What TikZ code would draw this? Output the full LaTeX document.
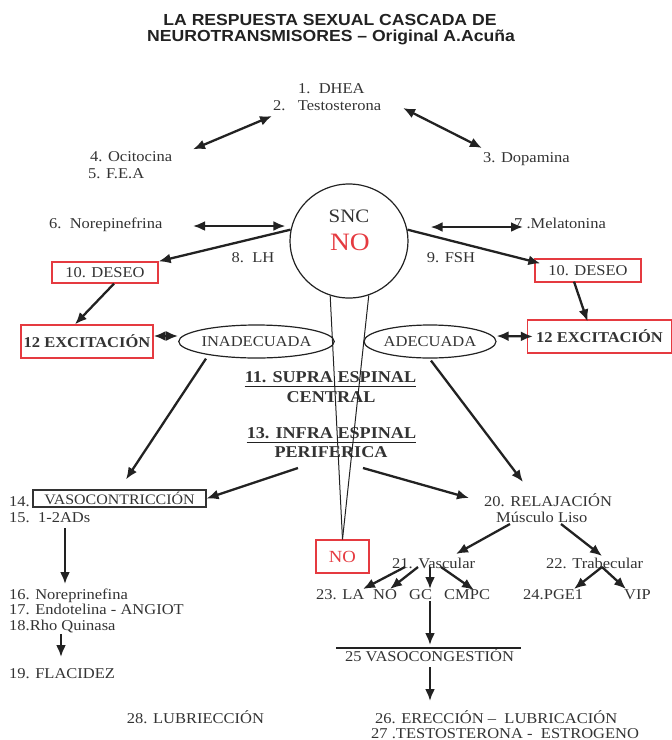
\documentclass[tikz,border=0pt]{standalone}
\usepackage{fontspec}
\setmainfont{Liberation Serif}[FakeStretch=1.1]
\newfontfamily\titlefont{Liberation Sans}[FakeStretch=1.1]
\usetikzlibrary{arrows.meta,shapes.geometric}
\definecolor{ink}{HTML}{222222}
\definecolor{txt}{HTML}{333333}
\definecolor{redbox}{HTML}{E53A40}
\begin{document}
\begin{tikzpicture}[x=1pt,y=-1pt,
  lbl/.style={inner sep=0pt, text=txt, font=\fontsize{15}{17}\selectfont, text height=10pt, text depth=0pt},
  bigb/.style={inner sep=0pt, text=txt, font=\fontsize{16.5}{19}\selectfont\bfseries, text height=11.4pt, text depth=0pt},
  ttl/.style={inner sep=0pt, text=ink, font=\titlefont\fontsize{16}{18}\selectfont\bfseries},
  arr/.style={-{Latex[length=12pt,width=10pt]}, line width=2.3pt, draw=ink},
  dbl/.style={{Latex[length=12pt,width=10pt]}-{Latex[length=12pt,width=10pt]}, line width=2.3pt, draw=ink},
  redbx/.style={draw=redbox, line width=1.3pt, inner sep=0pt, text=txt, font=\fontsize{15}{17}\selectfont},
  oval/.style={ellipse, draw=ink, line width=1.2pt, inner sep=0pt, text=txt, font=\fontsize{15}{17}\selectfont},
]
\useasboundingbox (0,0) rectangle (672,740);

% title
\node[ttl] (title1) at (330,20) {LA RESPUESTA SEXUAL CASCADA DE};
\node[ttl] (title2) at (331,37) {NEUROTRANSMISORES – Original A.Acuña};

% top labels
\node[lbl, anchor=west] (dhea) at (298,88) {1.\ \ DHEA};
\node[lbl, anchor=west] (testo) at (273,105) {2.\ \ \ Testosterona};
\node[lbl, anchor=west] (ocit) at (90,156) {4. Ocitocina};
\node[lbl, anchor=west] (fea) at (88,173) {5. F.E.A};
\node[lbl, anchor=west] (dopa) at (483,157) {3. Dopamina};
\node[lbl, anchor=west] (norep) at (49,223) {6.\ \ Norepinefrina};
\node[lbl, anchor=west] (melat) at (514,223) {7 .Melatonina};

% SNC
\node[ellipse, draw=ink, line width=1.2pt, minimum width=118pt, minimum height=114pt, inner sep=0pt] (snc) at (349,241) {};
\node[inner sep=0pt, text=txt, font=\fontsize{19}{21}\selectfont] (snctxt) at (349,216) {SNC};
\node[inner sep=0pt, text=redbox, font=\fontsize{25}{27}\selectfont] (sncno) at (350,242) {NO};

\node[lbl] (lh) at (253,257) {8.\ \ LH};
\node[lbl] (fsh) at (451,257) {9. FSH};

% DESEO boxes
\node[redbx, minimum width=106pt, minimum height=21pt] (deseoL) at (105,272.5) {10. DESEO};
\node[redbx, minimum width=106pt, minimum height=23pt] (deseoR) at (588,270.5) {10. DESEO};

% EXCITACION boxes
\node[redbx, minimum width=132pt, minimum height=33pt, font=\fontsize{15}{17}\selectfont\bfseries] (excL) at (87,341.5) {12 EXCITACIÓN};
\node[redbx, minimum width=144pt, minimum height=33pt, font=\fontsize{15}{17}\selectfont\bfseries] (excR) at (599.5,336.5) {12 EXCITACIÓN};

% ovals
\node[oval, minimum width=131pt, minimum height=33pt] (inad) at (256.5,341.5) {INADECUADA};
\node[oval, minimum width=132pt, minimum height=33pt] (adec) at (430,341.5) {ADECUADA};

% central labels
\node[bigb] (supra) at (330.5,377) {11. SUPRA ESPINAL};
\node[bigb] (central) at (331,397) {CENTRAL};
\node[bigb] (infra) at (331.5,433) {13. INFRA ESPINAL};
\node[bigb] (perif) at (331,452) {PERIFERICA};
\draw[ink, line width=1.4pt] ([yshift=-3.5pt]supra.south west) -- ([yshift=-3.5pt]supra.south east);
\draw[ink, line width=1.4pt] ([yshift=-3.5pt]infra.south west) -- ([yshift=-3.5pt]infra.south east);

% NO box
\node[redbx, minimum width=53pt, minimum height=33pt, text=redbox, font=\fontsize{17}{19}\selectfont] (nobox) at (342.5,556.5) {NO};
\draw[ink, line width=1pt] (snc.251) -- (nobox.north);
\draw[ink, line width=1pt] (snc.290) -- (nobox.north);

% left column
\node[lbl, anchor=west] (n14) at (9,501) {14.};
\node[draw=txt, line width=1.1pt, minimum width=173pt, minimum height=17pt, inner sep=0pt, text=txt, font=\fontsize{14.5}{16}\selectfont] (vaso) at (119.5,498.5) {VASOCONTRICCIÓN};
\node[lbl, anchor=west] (ad15) at (9,517) {15.\ \ 1-2ADs};
\node[lbl, anchor=west] (nore16) at (9,594) {16. Noreprinefina};
\node[lbl, anchor=west] (endo17) at (9,609) {17. Endotelina - ANGIOT};
\node[lbl, anchor=west] (rho18) at (9,625) {18.Rho Quinasa};
\node[lbl, anchor=west] (flac19) at (9,673) {19. FLACIDEZ};
\node[lbl] (lub28) at (195.5,718) {28. LUBRIECCIÓN};

% right column
\node[lbl, anchor=west] (rel) at (484,501) {20. RELAJACIÓN};
\node[lbl, anchor=west] (musc) at (496,517) {Músculo Liso};
\node[lbl, anchor=west] (vasc) at (392,563) {21. Vascular};
\node[lbl, anchor=west] (trab) at (546,563) {22. Trabecular};
\node[lbl, anchor=west] (la) at (316,594) {23. LA};
\node[lbl, anchor=west] (no2) at (373,594) {NO};
\node[lbl, anchor=west] (gc) at (409,594) {GC};
\node[lbl, anchor=west] (cmpc) at (444,594) {CMPC};
\node[lbl, anchor=west] (pge) at (523,594) {24.PGE1};
\node[lbl, anchor=west] (vip) at (624,594) {VIP};
\node[lbl] (vcong) at (429.5,656) {25 VASOCONGESTIÓN};
\node[lbl, anchor=west] (erec) at (375,718) {26. ERECCIÓN –\ \ LUBRICACIÓN};
\node[lbl, anchor=west] (testo27) at (371,733) {27 .TESTOSTERONA -\ \ ESTROGENO};
\draw[ink, line width=1.1pt] ([xshift=-93.5pt,yshift=8pt]vcong.center) -- ([xshift=91.5pt,yshift=8pt]vcong.center);

% arrows top
\draw[dbl] ([xshift=103pt,yshift=1.5pt]ocit.north west) -- ([xshift=-1pt,yshift=-11pt]testo.west);
\draw[dbl] ([xshift=130pt,yshift=-3pt]testo.west) -- ([xshift=-1pt,yshift=9pt]dopa.west);
\draw[dbl] ([xshift=144pt,yshift=-3pt]norep.west) -- ([xshift=-4pt,yshift=15pt]snc.west);
\draw[dbl] ([xshift=22pt,yshift=14pt]snc.east) -- ([xshift=9pt,yshift=-4pt]melat.west);
\draw[arr] (snc.169) -- (deseoL.north east);
\draw[arr] (snc.11) -- ([xshift=6pt,yshift=-5pt]deseoR.north west);
\draw[arr] ([xshift=9pt]deseoL.south) -- ([xshift=-12pt]excL.north);
\draw[arr] ([xshift=-14pt,yshift=1pt]deseoR.south) -- ([xshift=-12pt,yshift=-2pt]excR.north);
\draw[dbl] ([yshift=5.5pt]excL.east) -- ([yshift=5.5pt]inad.west);
\draw[dbl] ([yshift=5.5pt]adec.east) -- ([xshift=6pt]excR.west);

% arrows middle
\draw[arr] ([xshift=-50.5pt]inad.south) -- ([xshift=6.5pt,yshift=10pt]vaso.north);
\draw[arr] ([xshift=1pt,yshift=-2pt]adec.south) -- ([xshift=39pt,yshift=19pt]rel.west);
\draw[arr] ([xshift=-33pt,yshift=-16pt]perif.center) -- (vaso.east);
\draw[arr] ([xshift=32pt,yshift=-16pt]perif.center) -- ([xshift=-15pt,yshift=3pt]rel.west);

% left column arrows
\draw[arr] ([xshift=56pt,yshift=-11pt]ad15.west) -- ([xshift=56pt,yshift=10pt]nore16.west);
\draw[arr] ([xshift=52pt,yshift=-9pt]rho18.west) -- ([xshift=52pt,yshift=16pt]flac19.west);

% right column arrows
\draw[arr] ([xshift=14pt,yshift=-7pt]musc.west) -- ([xshift=64pt,yshift=9pt]vasc.west);
\draw[arr] ([xshift=65pt,yshift=-7pt]musc.west) -- ([xshift=56pt,yshift=7pt]trab.west);
\draw[arr] ([xshift=13pt,yshift=-4pt]vasc.west) -- ([xshift=47pt,yshift=5pt]la.west);
\draw[arr] ([xshift=26pt,yshift=-4pt]vasc.west) -- ([xshift=17pt,yshift=5pt]no2.west);
\draw[arr] ([xshift=38pt,yshift=-4pt]vasc.west) -- ([xshift=21pt,yshift=5pt]gc.west);
\draw[arr] ([xshift=49pt,yshift=-4pt]vasc.west) -- ([xshift=30pt,yshift=4pt]cmpc.west);
\draw[arr] ([xshift=56pt,yshift=-4pt]trab.west) -- ([xshift=51pt,yshift=5pt]pge.west);
\draw[arr] ([xshift=56pt,yshift=-4pt]trab.west) -- ([xshift=2pt,yshift=5pt]vip.west);
\draw[arr] ([xshift=21pt,yshift=-7pt]gc.west) -- ([xshift=0.5pt,yshift=11pt]vcong.center);
\draw[arr] ([xshift=0.5pt,yshift=-11pt]vcong.center) -- ([xshift=55pt,yshift=17pt]erec.west);
\end{tikzpicture}
\end{document}
